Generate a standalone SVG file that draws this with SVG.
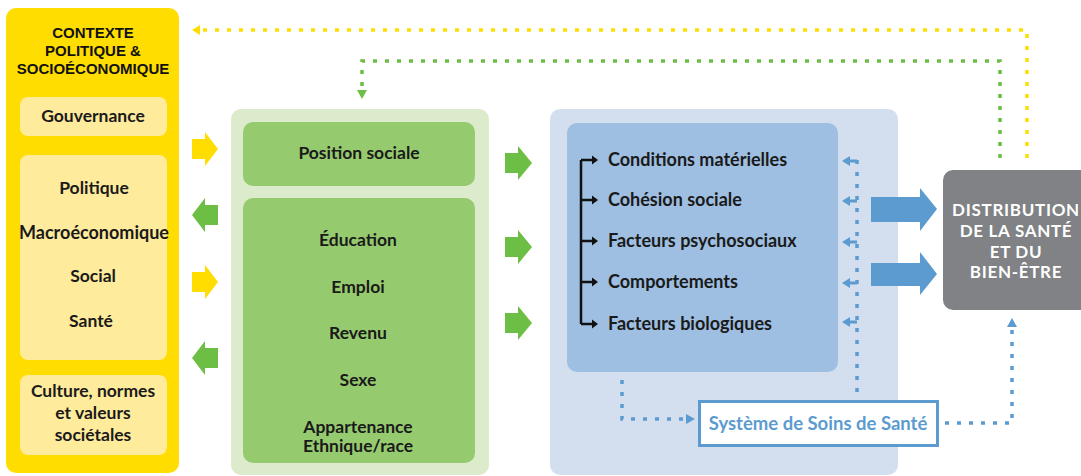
<svg xmlns="http://www.w3.org/2000/svg" width="1081" height="476" viewBox="0 0 1081 476">
<style>
.t{font-family:Lato,"Open Sans","Liberation Sans",sans-serif;font-weight:bold;font-size:17.5px;fill:#1a1a1a;text-anchor:middle}
.tl{text-anchor:start}
.h{font-family:"Liberation Sans",Arial,sans-serif;font-weight:bold;font-size:15px;fill:#111;text-anchor:middle}
.w{font-family:Lato,"Open Sans","Liberation Sans",sans-serif;font-weight:bold;font-size:17px;letter-spacing:0.7px;fill:#fff;text-anchor:middle}
.dy{fill:none;stroke:#FFDD00;stroke-width:3.5;stroke-dasharray:4 8}
.dg{fill:none;stroke:#6DBE45;stroke-width:3.5;stroke-dasharray:4 8}
.db{fill:none;stroke:#5B9BD0;stroke-width:3.5;stroke-dasharray:4 8}
.ay{fill:#FFDD00}.ag{fill:#6DBE45}.ab{fill:#5B9BD0}
</style>
<rect width="1081" height="476" fill="#fff"/>
<g id="contexte">
<rect x="6" y="8" width="173" height="465" rx="10" fill="#FFDD00"/>
<text class="h" x="93" y="38">CONTEXTE</text>
<text class="h" x="93" y="56">POLITIQUE &amp;</text>
<text class="h" x="93" y="74">SOCIOÉCONOMIQUE</text>
</g>
<g id="gouvernance">
<rect x="20" y="97" width="147" height="39" rx="8" fill="#FFEB9C"/>
<text class="t" x="93" y="122">Gouvernance</text>
</g>
<g id="politiques">
<rect x="20" y="155" width="147" height="205" rx="8" fill="#FFEB9C"/>
<text class="t" x="94" y="194">Politique</text>
<text class="t" x="94" y="239" style="font-size:18px">Macroéconomique</text>
<text class="t" x="93" y="282">Social</text>
<text class="t" x="91" y="327">Santé</text>
</g>
<g id="culture">
<rect x="20" y="375" width="147" height="80" rx="8" fill="#FFEB9C"/>
<text class="t" x="93" y="397">Culture, normes</text>
<text class="t" x="93" y="419">et valeurs</text>
<text class="t" x="93" y="441">sociétales</text>
</g>
<g id="position">
<rect x="231" y="109" width="258" height="366" rx="10" fill="#DBEBCB"/>
<rect x="243" y="122" width="232" height="64" rx="10" fill="#96CA6E"/>
<text class="t" x="359" y="159">Position sociale</text>
</g>
<g id="stratification">
<rect x="243" y="198" width="232" height="265" rx="10" fill="#96CA6E"/>
<text class="t" x="358" y="246">Éducation</text>
<text class="t" x="358" y="293">Emploi</text>
<text class="t" x="358" y="339">Revenu</text>
<text class="t" x="358" y="386">Sexe</text>
<text class="t" x="358" y="433">Appartenance</text>
<text class="t" x="358" y="452">Ethnique/race</text>
</g>
<g id="intermediaires">
<rect x="550" y="109" width="348" height="366" rx="10" fill="#D3DFEF"/>
<rect x="567" y="123" width="271" height="249" rx="10" fill="#9EBFE1"/>
<text class="t tl" x="608" y="166" style="font-size:18px">Conditions matérielles</text>
<text class="t tl" x="608" y="206" style="font-size:18px">Cohésion sociale</text>
<text class="t tl" x="608" y="247" style="font-size:18px">Facteurs psychosociaux</text>
<text class="t tl" x="608" y="288" style="font-size:18px">Comportements</text>
<text class="t tl" x="608" y="330" style="font-size:18px">Facteurs biologiques</text>
</g>
<g id="soins">
<rect x="699.5" y="401.5" width="238" height="44" fill="#fff" stroke="#5B9BD0" stroke-width="3"/>
<text class="t" x="818" y="430" style="fill:#5B9BD0;font-size:18.5px">Système de Soins de Santé</text>
</g>
<g id="distribution">
<rect x="943" y="170" width="150" height="140" rx="10" fill="#808285"/>
<text class="w" x="1016" y="216">DISTRIBUTION</text>
<text class="w" x="1016" y="237">DE LA SANTÉ</text>
<text class="w" x="1016" y="258">ET DU</text>
<text class="w" x="1016" y="278">BIEN-ÊTRE</text>
</g>
<g id="connectors">
<polygon class="ay" points="192,139 205,139 205,132 218,149 205,166 205,159 192,159"/>
<polygon class="ay" points="192,272 205,272 205,265 218,282 205,299 205,292 192,292"/>
<polygon class="ag" points="218,205 205,205 205,198 192,215 205,232 205,225 218,225"/>
<polygon class="ag" points="218,348 205,348 205,341 192,358 205,375 205,368 218,368"/>
<polygon class="ag" points="505,153 518,153 518,146 532,163 518,180 518,173 505,173"/>
<polygon class="ag" points="505,237 518,237 518,230 532,247 518,264 518,257 505,257"/>
<polygon class="ag" points="505,313 518,313 518,306 532,323 518,340 518,333 505,333"/>
<polygon class="ab" points="871,197 920,197 920,188 937,209 920,231 920,222 871,222"/>
<polygon class="ab" points="871,263 920,263 920,252 937,274 920,295 920,286 871,286"/>
<path d="M581,160 V324 M581,160 H592 M581,200 H592 M581,241 H592 M581,282 H592 M581,324 H592" fill="none" stroke="#111" stroke-width="2.5"/>
<g fill="#111">
<polygon points="592,155.5 598,160 592,164.5"/>
<polygon points="592,195.5 598,200 592,204.5"/>
<polygon points="592,236.5 598,241 592,245.5"/>
<polygon points="592,277.5 598,282 592,286.5"/>
<polygon points="592,319.5 598,324 592,328.5"/>
</g>
<path class="dy" d="M1027,158 V30 H202"/>
<polygon class="ay" points="192,30 200,25 200,35"/>
<path class="dg" d="M1000,158 V61 H362 V90"/>
<polygon class="ag" points="362,99 357,90 367,90"/>
<path class="db" d="M857,392 V160"/>
<path class="db" d="M857,161 H850 M857,201 H850 M857,242 H850 M857,283 H850 M857,322 H850" style="stroke-dasharray:none;stroke-width:3"/>
<g class="ab">
<polygon points="842,161 850,156 850,166"/>
<polygon points="842,201 850,196 850,206"/>
<polygon points="842,242 850,237 850,247"/>
<polygon points="842,283 850,278 850,288"/>
<polygon points="842,322 850,317 850,327"/>
</g>
<path class="db" d="M622,380 V419 H686"/>
<polygon class="ab" points="695,419 686,414 686,424"/>
<path class="db" d="M945,423 H1012 V327"/>
<polygon class="ab" points="1012,318 1007,327 1017,327"/>
</g>
</svg>
